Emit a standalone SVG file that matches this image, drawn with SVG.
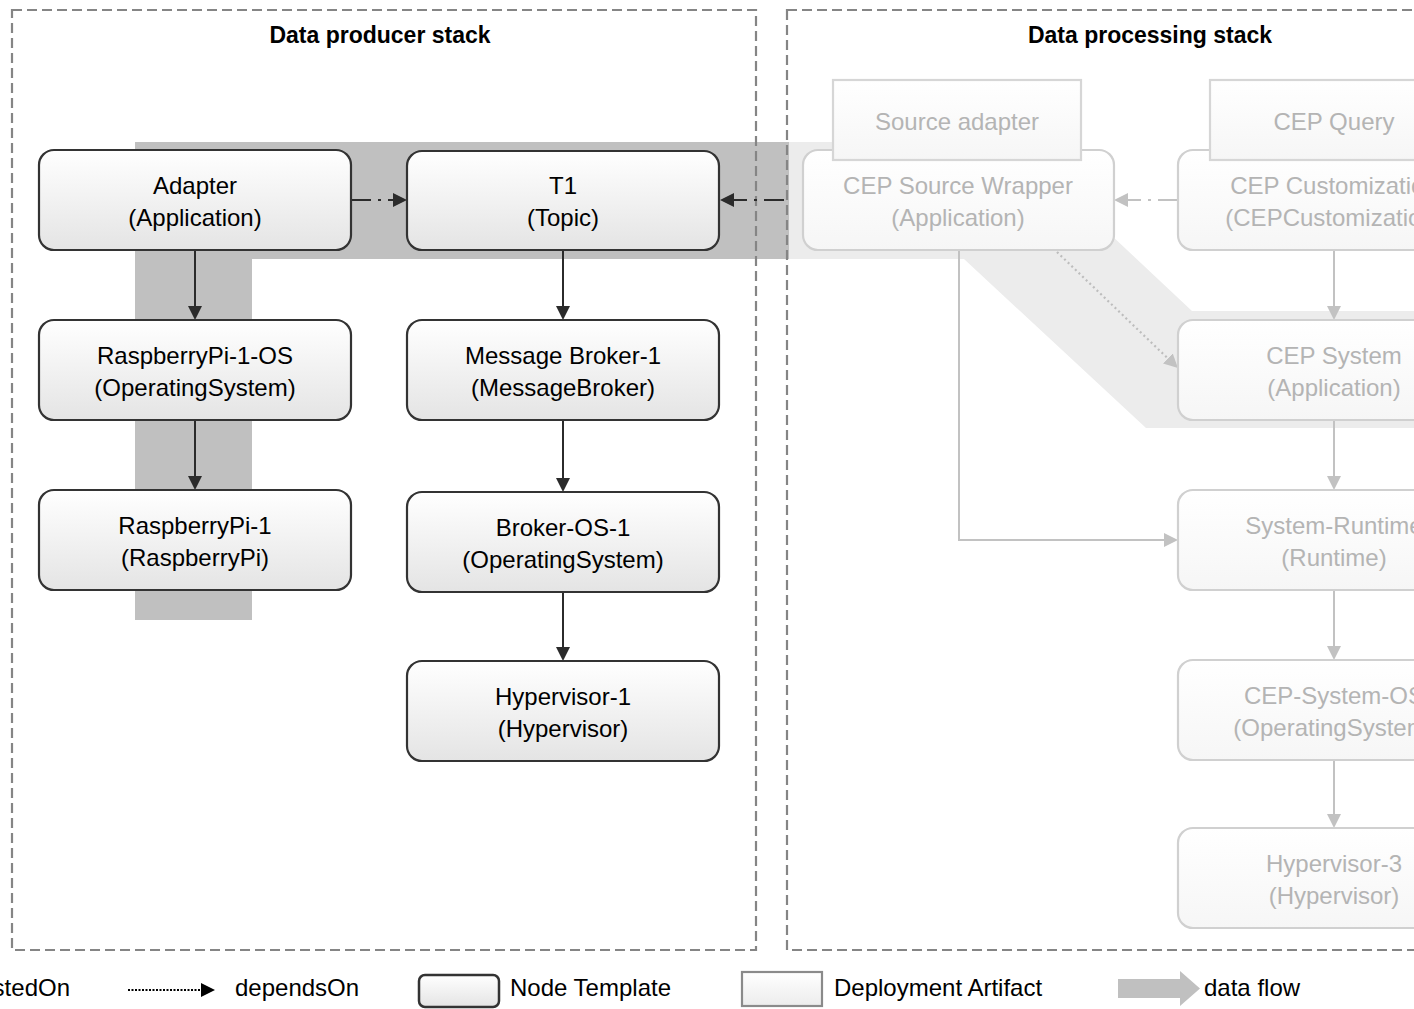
<svg xmlns="http://www.w3.org/2000/svg" width="1414" height="1009" viewBox="0 0 1414 1009">
  <defs>
    <linearGradient id="gNode" x1="0" y1="0" x2="0" y2="1">
      <stop offset="0" stop-color="#ffffff"/>
      <stop offset="1" stop-color="#e4e4e4"/>
    </linearGradient>
    <linearGradient id="gFade" x1="0" y1="0" x2="0" y2="1">
      <stop offset="0" stop-color="#ffffff"/>
      <stop offset="1" stop-color="#f6f6f6"/>
    </linearGradient>
    <linearGradient id="gArtifact" x1="0" y1="0" x2="0" y2="1">
      <stop offset="0" stop-color="#ffffff"/>
      <stop offset="1" stop-color="#ececec"/>
    </linearGradient>
    <marker id="arrDark" viewBox="0 0 14 14" refX="2" refY="7" markerWidth="14" markerHeight="14" markerUnits="userSpaceOnUse" orient="auto">
      <path d="M0,0 L14,7 L0,14 z" fill="#2b2b2b"/>
    </marker>
    <marker id="arrLight" viewBox="0 0 14 14" refX="2" refY="7" markerWidth="14" markerHeight="14" markerUnits="userSpaceOnUse" orient="auto">
      <path d="M0,0 L14,7 L0,14 z" fill="#c2c2c2"/>
    </marker>
    <marker id="arrBlack" viewBox="0 0 14 14" refX="2" refY="7" markerWidth="14" markerHeight="14" markerUnits="userSpaceOnUse" orient="auto">
      <path d="M0,0 L14,7 L0,14 z" fill="#000000"/>
    </marker>
  </defs>
  <style>
    text { font-family: "Liberation Sans", Arial, sans-serif; }
    .title { font-size: 23px; font-weight: bold; fill: #000; text-anchor: middle; }
    .label { font-size: 24px; fill: #000; text-anchor: middle; }
    .flabel { font-size: 24px; fill: #b4b4b4; text-anchor: middle; }
    .legend { font-size: 24px; fill: #000; }
    .node { fill: url(#gNode); stroke: #333333; stroke-width: 2.2; }
    .fnode { fill: url(#gFade); stroke: #d0d0d0; stroke-width: 2.2; }
    .fart { fill: url(#gFade); stroke: #d6d6d6; stroke-width: 2.2; }
    .stack { fill: none; stroke: #858585; stroke-width: 2.2; stroke-dasharray: 10 5; }
    .host { fill: none; stroke: #2b2b2b; stroke-width: 2; marker-end: url(#arrDark); }
    .dep { fill: none; stroke: #2b2b2b; stroke-width: 2.2; stroke-dasharray: 20 7 3 7; marker-end: url(#arrDark); }
    .fhost { fill: none; stroke: #c2c2c2; stroke-width: 2; marker-end: url(#arrLight); }
    .fdep { fill: none; stroke: #c2c2c2; stroke-width: 2.2; stroke-dasharray: 20 7 3 7; marker-end: url(#arrLight); }
    .fdot { fill: none; stroke: #bdbdbd; stroke-width: 2.2; stroke-dasharray: 2 3; marker-end: url(#arrLight); }
  </style>

  <rect x="0" y="0" width="1414" height="1009" fill="#ffffff"/>

  <!-- data flow bands -->
  <g id="dataflow">
    <polygon points="135,142 789,142 789,259 252,259 252,620 135,620" fill="#c0c0c0"/>
    <polygon points="789,142 1012,142 1192,311 1414,311 1414,428 1146,428 964,259 789,259" fill="#ececec"/>
  </g>

  <!-- stacks -->
  <g id="stack-producer">
    <rect class="stack" x="12" y="10" width="744" height="940"/>
    <text class="title" x="380" y="43">Data producer stack</text>
  </g>
  <g id="stack-processing">
    <rect class="stack" x="787" y="10" width="700" height="940"/>
    <text class="title" x="1150" y="43">Data processing stack</text>
  </g>

  <!-- connectors -->
  <g id="connectors">
    <line class="dep" x1="351" y1="200" x2="395" y2="200"/>
    <line class="dep" x1="784" y1="200" x2="732" y2="200"/>
    <line class="host" x1="195" y1="250" x2="195" y2="308"/>
    <line class="host" x1="195" y1="420" x2="195" y2="478"/>
    <line class="host" x1="563" y1="250" x2="563" y2="308"/>
    <line class="host" x1="563" y1="420" x2="563" y2="480"/>
    <line class="host" x1="563" y1="592" x2="563" y2="649"/>
    <line class="fdep" x1="1178" y1="200" x2="1126" y2="200"/>
    <line class="fhost" x1="1334" y1="250" x2="1334" y2="308"/>
    <line class="fhost" x1="1334" y1="420" x2="1334" y2="478"/>
    <line class="fhost" x1="1334" y1="590" x2="1334" y2="648"/>
    <line class="fhost" x1="1334" y1="760" x2="1334" y2="816"/>
    <polyline class="fhost" points="959,250 959,540 1166,540"/>
    <line class="fdot" x1="1057" y1="252" x2="1169.3" y2="359.8"/>
  </g>

  <!-- producer stack nodes -->
  <g id="node-adapter">
    <rect class="node" x="39" y="150" width="312" height="100" rx="15"/>
    <text class="label" x="195" y="194">Adapter</text>
    <text class="label" x="195" y="226">(Application)</text>
  </g>
  <g id="node-t1">
    <rect class="node" x="407" y="151" width="312" height="99" rx="15"/>
    <text class="label" x="563" y="194">T1</text>
    <text class="label" x="563" y="226">(Topic)</text>
  </g>
  <g id="node-raspberrypi-os">
    <rect class="node" x="39" y="320" width="312" height="100" rx="15"/>
    <text class="label" x="195" y="364">RaspberryPi-1-OS</text>
    <text class="label" x="195" y="396">(OperatingSystem)</text>
  </g>
  <g id="node-message-broker">
    <rect class="node" x="407" y="320" width="312" height="100" rx="15"/>
    <text class="label" x="563" y="364">Message Broker-1</text>
    <text class="label" x="563" y="396">(MessageBroker)</text>
  </g>
  <g id="node-raspberrypi">
    <rect class="node" x="39" y="490" width="312" height="100" rx="15"/>
    <text class="label" x="195" y="534">RaspberryPi-1</text>
    <text class="label" x="195" y="566">(RaspberryPi)</text>
  </g>
  <g id="node-broker-os">
    <rect class="node" x="407" y="492" width="312" height="100" rx="15"/>
    <text class="label" x="563" y="536">Broker-OS-1</text>
    <text class="label" x="563" y="568">(OperatingSystem)</text>
  </g>
  <g id="node-hypervisor-1">
    <rect class="node" x="407" y="661" width="312" height="100" rx="15"/>
    <text class="label" x="563" y="705">Hypervisor-1</text>
    <text class="label" x="563" y="737">(Hypervisor)</text>
  </g>

  <!-- processing stack nodes -->
  <g id="node-cep-source-wrapper">
    <rect class="fnode" x="803" y="150" width="311" height="100" rx="15"/>
    <text class="flabel" x="958" y="194">CEP Source Wrapper</text>
    <text class="flabel" x="958" y="226">(Application)</text>
  </g>
  <g id="artifact-source-adapter">
    <rect class="fart" x="833" y="80" width="248" height="80"/>
    <text class="flabel" x="957" y="130">Source adapter</text>
  </g>
  <g id="node-cep-customization">
    <rect class="fnode" x="1178" y="150" width="312" height="100" rx="15"/>
    <text class="flabel" x="1334" y="194">CEP Customization</text>
    <text class="flabel" x="1334" y="226">(CEPCustomization)</text>
  </g>
  <g id="artifact-cep-query">
    <rect class="fart" x="1210" y="80" width="248" height="80"/>
    <text class="flabel" x="1334" y="130">CEP Query</text>
  </g>
  <g id="node-cep-system">
    <rect class="fnode" x="1178" y="320" width="312" height="100" rx="15"/>
    <text class="flabel" x="1334" y="364">CEP System</text>
    <text class="flabel" x="1334" y="396">(Application)</text>
  </g>
  <g id="node-system-runtime">
    <rect class="fnode" x="1178" y="490" width="312" height="100" rx="15"/>
    <text class="flabel" x="1334" y="534">System-Runtime</text>
    <text class="flabel" x="1334" y="566">(Runtime)</text>
  </g>
  <g id="node-cep-system-os">
    <rect class="fnode" x="1178" y="660" width="312" height="100" rx="15"/>
    <text class="flabel" x="1334" y="704">CEP-System-OS</text>
    <text class="flabel" x="1334" y="736">(OperatingSystem)</text>
  </g>
  <g id="node-hypervisor-3">
    <rect class="fnode" x="1178" y="828" width="312" height="100" rx="15"/>
    <text class="flabel" x="1334" y="872">Hypervisor-3</text>
    <text class="flabel" x="1334" y="904">(Hypervisor)</text>
  </g>

  <!-- legend -->
  <g id="legend">
    <text class="legend" x="70" y="996" text-anchor="end">hostedOn</text>
    <line x1="128" y1="990" x2="203" y2="990" stroke="#000" stroke-width="2.2" stroke-dasharray="2 1.5" marker-end="url(#arrBlack)"/>
    <text class="legend" x="235" y="996">dependsOn</text>
    <rect x="419" y="975" width="80" height="32" rx="6" fill="url(#gNode)" stroke="#333" stroke-width="2.5"/>
    <text class="legend" x="510" y="996">Node Template</text>
    <rect x="742" y="972" width="80" height="34" fill="url(#gArtifact)" stroke="#8a8a8a" stroke-width="2.2"/>
    <text class="legend" x="834" y="996">Deployment Artifact</text>
    <polygon points="1118,979 1180,979 1180,971 1200,988.5 1180,1006 1180,998 1118,998" fill="#c0c0c0"/>
    <text class="legend" x="1204" y="996">data flow</text>
  </g>
</svg>
